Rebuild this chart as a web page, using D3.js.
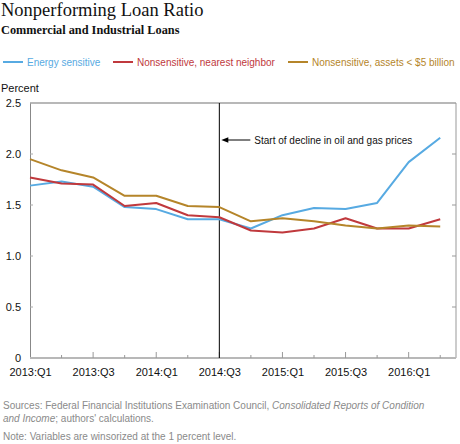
<!DOCTYPE html>
<html><head><meta charset="utf-8">
<script src="https://cdn.jsdelivr.net/npm/d3@7/dist/d3.min.js"></script>
<style>body{margin:0;background:#fff;}svg{display:block;}</style>
</head><body>
<script>
const quarters = ["2013:Q1","2013:Q2","2013:Q3","2013:Q4","2014:Q1","2014:Q2","2014:Q3","2014:Q4","2015:Q1","2015:Q2","2015:Q3","2015:Q4","2016:Q1","2016:Q2"];
const energySensitive = [1.69,1.73,1.68,1.48,1.46,1.36,1.36,1.27,1.40,1.47,1.46,1.52,1.92,2.16];
const nearestNeighbor = [1.77,1.71,1.70,1.49,1.52,1.40,1.38,1.25,1.23,1.27,1.37,1.27,1.27,1.36];
const smallAssets = [1.95,1.84,1.77,1.59,1.59,1.49,1.48,1.34,1.37,1.34,1.30,1.27,1.30,1.29];
const yTicks = [0,0.5,1.0,1.5,2.0,2.5];
const seriesNames = ["Energy sensitive","Nonsensitive, nearest neighbor","Nonsensitive, assets < $5 billion"];
const seriesColors = ["#57aae2","#c0393d","#b5852a"];
const eventIndex = 6;

const W=460,H=444;
const svg=d3.select("body").append("svg").attr("width",W).attr("height",H);
const sans="Arial, 'Liberation Sans', sans-serif";
const serif="Georgia, 'Liberation Serif', serif";

svg.append("text").attr("x",1).attr("y",16).attr("font-family",serif).attr("font-size",18.5).attr("fill","#111").text("Nonperforming Loan Ratio");
svg.append("text").attr("x",1).attr("y",33.5).attr("font-family",serif).attr("font-weight","bold").attr("font-size",12.3).attr("fill","#111").text("Commercial and Industrial Loans");

// legend
const legX=[3,113,288];
seriesNames.forEach((n,i)=>{
  svg.append("line").attr("x1",legX[i]).attr("x2",legX[i]+20).attr("y1",62).attr("y2",62).attr("stroke",seriesColors[i]).attr("stroke-width",2);
  svg.append("text").attr("x",legX[i]+24).attr("y",65.5).attr("font-family",sans).attr("font-size",10).attr("fill",seriesColors[i]).text(n);
});
svg.append("text").attr("x",1).attr("y",92).attr("font-family",sans).attr("font-size",11).attr("fill","#111").text("Percent");

const x=d3.scaleLinear().domain([0,13.5]).range([30,456]);
const y=d3.scaleLinear().domain([0,2.5]).range([358,103]);

// frame
svg.append("line").attr("x1",30).attr("x2",456).attr("y1",y(2.5)).attr("y2",y(2.5)).attr("stroke","#b8b8b8").attr("stroke-width",2);
svg.append("line").attr("x1",456).attr("x2",456).attr("y1",y(2.5)).attr("y2",y(0)).attr("stroke","#999").attr("stroke-width",1);

// y axis left
const yAxis=d3.axisLeft(y).tickValues(yTicks).tickSize(0).tickPadding(9).tickFormat(d=>d===0?"0":d3.format(".1f")(d));
const gy=svg.append("g").attr("transform","translate(30,0)").call(yAxis);
gy.select(".domain").attr("stroke","#888").attr("stroke-width",1);
gy.selectAll("text").attr("font-family",sans).attr("font-size",11).attr("fill","#111");
// inward ticks
svg.append("g").selectAll("line").data(yTicks.filter(d=>d>0&&d<2.5)).join("line")
  .attr("x1",30).attr("x2",33).attr("y1",d=>y(d)).attr("y2",d=>y(d)).attr("stroke","#aaa");
svg.append("g").selectAll("line").data(yTicks.filter(d=>d>0&&d<2.5)).join("line")
  .attr("x1",452).attr("x2",456).attr("y1",d=>y(d)).attr("y2",d=>y(d)).attr("stroke","#999");

// x axis
const idx=d3.range(quarters.length);
const xAxis=d3.axisBottom(x).tickValues(idx.filter(i=>i%2===0)).tickSize(0).tickPadding(10).tickFormat(i=>quarters[i]);
const gx=svg.append("g").attr("transform",`translate(0,${y(0)})`).call(xAxis);
gx.select(".domain").remove();
gx.selectAll("text").attr("font-family",sans).attr("font-size",11).attr("fill","#111");
svg.append("line").attr("x1",30).attr("x2",456).attr("y1",y(0)).attr("y2",y(0)).attr("stroke","#b8b8b8").attr("stroke-width",2);
svg.append("g").selectAll("line").data(idx.filter(i=>i>0)).join("line")
  .attr("x1",d=>x(d)).attr("x2",d=>x(d)).attr("y1",y(0)).attr("y2",d=>y(0)-(d%2===0?6:3)).attr("stroke","#999");

// event line
svg.append("line").attr("x1",x(eventIndex)).attr("x2",x(eventIndex)).attr("y1",y(2.5)).attr("y2",y(0)).attr("stroke","#000").attr("stroke-width",1);
svg.append("line").attr("x1",x(eventIndex)+7).attr("x2",x(eventIndex)+31).attr("y1",140).attr("y2",140).attr("stroke","#000").attr("stroke-width",1);
svg.append("path").attr("d",`M${x(eventIndex)+2},140 L${x(eventIndex)+9},137.3 L${x(eventIndex)+9},142.7 Z`).attr("fill","#000");
svg.append("text").attr("x",x(eventIndex)+35).attr("y",143.5).attr("font-family",sans).attr("font-size",10).attr("fill","#111").text("Start of decline in oil and gas prices");

// series
const line=d3.line().x((d,i)=>x(i)).y(d=>y(d));
[energySensitive,nearestNeighbor,smallAssets].forEach((s,i)=>{
  svg.append("path").datum(s).attr("d",line).attr("fill","none").attr("stroke",seriesColors[i]).attr("stroke-width",2).attr("stroke-linejoin","round");
});

// footer
const f=svg.append("g").attr("font-family",sans).attr("font-size",10).attr("fill","#8a8a8a");
const t1=f.append("text").attr("x",3).attr("y",409);
t1.append("tspan").text("Sources: Federal Financial Institutions Examination Council, ");
t1.append("tspan").attr("font-style","italic").text("Consolidated Reports of Condition");
const t2=f.append("text").attr("x",3).attr("y",421.5);
t2.append("tspan").attr("font-style","italic").text("and Income");
t2.append("tspan").text("; authors' calculations.");
f.append("text").attr("x",3).attr("y",440).text("Note: Variables are winsorized at the 1 percent level.");
</script>
</body></html>
